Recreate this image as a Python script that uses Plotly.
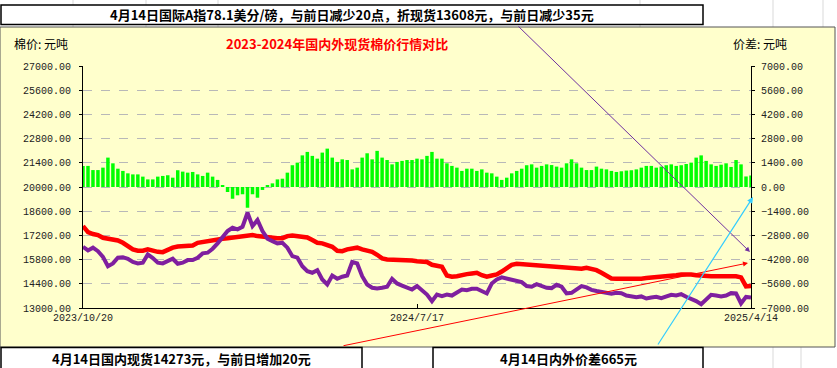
import plotly.graph_objects as go

# ---------------- data ----------------
x_tick_labels = ["2023/10/20", "2024/7/17", "2025/4/14"]

domestic = [
    17740, 17390, 17280, 17220, 17060, 17010, 16970, 16910, 16770, 16580, 16390, 16310, 16310, 16390, 16310,
    16250, 16230, 16370, 16490, 16560, 16560, 16580, 16620, 16770, 16830, 16890, 16950, 16990, 17010, 17040,
    17080, 17120, 17160, 17180, 17220,
    17160, 17120, 17100, 17060, 17030, 17040, 17160, 17200, 17180, 17140, 17080, 16930, 16770, 16740, 16660,
    16540, 16310, 16290, 16390, 16450, 16490, 16390, 16330, 16250, 16080, 15870, 15810, 15810, 15810, 15770,
    15770, 15750, 15710, 15660,
    15660, 15500, 15460, 15380, 14880, 14810, 14840, 14920, 14960, 15000, 15040, 14900, 14810, 14880, 14940,
    15110, 15310, 15500, 15560, 15540, 15500, 15460, 15480, 15460, 15420, 15420, 15400, 15380, 15370, 15330,
    15310, 15270,
    15330, 15290, 15190, 15040, 14840, 14710, 14690, 14690, 14670, 14650, 14670, 14690, 14730, 14750, 14790,
    14810, 14820, 14840, 14900, 14940, 14960, 14940, 14900, 14860, 14840, 14840, 14840, 14840, 14840, 14840,
    14840, 14770, 14253, 14273,
]

international = [
    16540, 16330, 16490, 16290, 15960, 15420, 15580, 15910, 15940, 15850, 15660, 15580, 15620, 16100, 15890,
    15620, 15580, 15710, 15850, 15560, 15620, 15770, 15770, 15910, 16160, 16200, 16430, 16740, 17120, 17450,
    17640, 17550, 17700, 18510, 17740,
    18090, 17450, 17010, 16870, 16740, 16770, 16490, 16000, 15910, 15420, 15130, 15040, 15190, 14650, 14360,
    14880, 14690, 14810, 14880, 15660, 15580, 14840, 14360, 14170, 14130, 14170, 14230, 14690, 14420, 14300,
    14170, 14070, 14270, 14030,
    13780, 13400, 13780, 13690, 13780, 13720, 13920, 14070, 14030, 14110, 14110, 13980, 13840, 14420, 14650,
    14770, 14690, 14630, 14550, 14500, 14270, 14230, 14380, 14300, 14170, 14150, 14340, 14230, 13840, 13880,
    14070, 14270,
    14190, 14050, 13980, 13920, 13880, 13820, 13880, 13860, 13720, 13700, 13630, 13670, 13550, 13610, 13650,
    13570, 13690, 13760, 13720, 13800, 13650, 13550, 13400, 13220, 13510, 13760, 13720, 13670, 13720, 13860,
    13840, 13260, 13643, 13608,
]

spread = [
    1220, 1220, 980, 980, 1120, 1700, 1370, 1060, 930, 790, 730, 730, 600, 440, 440,
    600, 640, 680, 540, 970, 890, 830, 870, 730, 640, 830, 600, 410, 100, -290,
    -680, -480, -420, -1200, -420,
    -620, -170, 60, 210, 440, 480, 830, 1260, 1410, 1830, 2030, 1800, 1640, 1990, 2220,
    1700, 1450, 1600, 1560, 1020, 1120, 1700, 1950, 1600, 2090, 1700, 1560, 1310, 1450, 1510,
    1560, 1560, 1640, 1600,
    1800, 2030, 1640, 1640, 1370, 1220, 1120, 930, 1060, 1060, 930, 1020, 830, 790, 600,
    410, 540, 790, 930, 1060, 1260, 1310, 1120, 1220, 1310, 1270, 1180, 1120, 1370, 1600,
    1370, 1120,
    980, 980, 1180, 1060, 1020, 930, 870, 910, 950, 970, 1020, 1120, 1220, 1220, 1120,
    1180, 1260, 1310, 1220, 1260, 1330, 1410, 1700, 1830, 1510, 1310, 1220, 1290, 1370, 1160,
    1560, 1310, 610, 665,
]

assert len(domestic) == len(international) == len(spread)
idx = list(range(len(domestic)))
tick_positions = [idx[0], idx[len(idx) // 2], idx[-1]]

# ---------------- layout helpers (pixel -> paper) ----------------
W, H = 837, 368
L, R, T, B = 83, 86, 66, 60
PW, PH = W - L - R, H - T - B


def px(x):
    return (x - L) / PW


def py(y):
    return (H - B - y) / PH


YELLOW = "#FFFFCC"
TICK_FONT = dict(family="Liberation Mono, DejaVu Sans Mono, monospace", size=10, color="#222222")
CJK = "Noto Sans CJK SC, sans-serif"

fig = go.Figure()

fig.add_trace(go.Bar(
    x=idx, y=spread, yaxis="y2", marker=dict(color="#00FF00", line=dict(width=0)),
    name="价差", showlegend=False,
))
fig.add_trace(go.Scatter(
    x=idx, y=domestic, mode="lines", line=dict(color="#FF0000", width=4.5),
    name="国内现货", showlegend=False,
))
fig.add_trace(go.Scatter(
    x=idx, y=international, mode="lines", line=dict(color="#7F1F9F", width=4),
    name="国际折现货", showlegend=False,
))

shapes = []
# Excel sheet gridlines in the white margins
for gx in [73, 146, 218, 640, 773, 823]:
    shapes.append(dict(type="line", xref="paper", yref="paper", x0=px(gx), x1=px(gx), y0=py(0), y1=py(27),
                       line=dict(color="#D9D9D9", width=1), layer="below"))
for gx in [773, 801]:
    shapes.append(dict(type="line", xref="paper", yref="paper", x0=px(gx), x1=px(gx), y0=py(347), y1=py(368),
                       line=dict(color="#D9D9D9", width=1), layer="below"))
# chart area (yellow)
shapes.append(dict(type="rect", xref="paper", yref="paper", x0=px(0), x1=px(835), y0=py(347), y1=py(27),
                   fillcolor=YELLOW, line=dict(color="#555555", width=1), layer="below"))
# text boxes
for (bx0, by0, bx1, by1) in [(1, 5, 703, 24.5), (1, 347.5, 362, 372), (433, 347.5, 703, 372)]:
    shapes.append(dict(type="rect", xref="paper", yref="paper", x0=px(bx0), x1=px(bx1), y0=py(by1), y1=py(by0),
                       fillcolor="white", line=dict(color="#000000", width=1.5), layer="above"))


def label(text, x, y, size=13, color="#000000"):
    return dict(text=text, x=px(x), y=py(y), xref="paper", yref="paper", showarrow=False,
                xanchor="center", yanchor="middle", font=dict(family=CJK, size=size, color=color))


annotations = [
    label("<b>4月14日国际A指78.1美分/磅，与前日减少20点，折现货13608元，与前日减少35元</b>", 352, 15),
    label("<b>4月14日国内现货14273元，与前日增加20元</b>", 181, 358),
    label("<b>4月14日内外价差665元</b>", 568, 358),
    label("<b>2023-2024年国内外现货棉价行情对比</b>", 337, 43, color="#FF0000"),
    label("棉价: 元吨", 41, 43, size=12),
    label("价差: 元吨", 760, 43, size=12),
    # arrows
    dict(text="", x=px(750), y=py(252), xref="paper", yref="paper", ax=517 - 750, ay=25 - 252,
         showarrow=True, arrowhead=2, arrowsize=1, arrowwidth=1, arrowcolor="#7030A0"),
    dict(text="", x=px(748), y=py(263), xref="paper", yref="paper", ax=342 - 748, ay=346 - 263,
         showarrow=True, arrowhead=2, arrowsize=1, arrowwidth=1, arrowcolor="#FF0000"),
    dict(text="", x=px(753), y=py(197), xref="paper", yref="paper", ax=657 - 753, ay=346 - 197,
         showarrow=True, arrowhead=2, arrowsize=1, arrowwidth=1.2, arrowcolor="#33CCFF"),
]

fig.update_layout(
    width=W, height=H,
    margin=dict(l=L, r=R, t=T, b=B, pad=0),
    paper_bgcolor="white",
    plot_bgcolor=YELLOW,
    bargap=0.3,
    showlegend=False,
    shapes=shapes,
    annotations=annotations,
    xaxis=dict(
        range=[idx[0], idx[-1]],
        tickmode="array", tickvals=tick_positions, ticktext=x_tick_labels,
        ticks="inside", ticklen=4, tickcolor="#000000",
        showline=True, linecolor="#000000", linewidth=1,
        showgrid=False, zeroline=False, tickfont=TICK_FONT,
    ),
    yaxis=dict(
        range=[13000, 27000], dtick=1400, tick0=13000, tickformat=".2f",
        ticks="outside", ticklen=3, tickcolor="#000000", ticklabelstandoff=6,
        showline=True, linecolor="#000000", linewidth=1, mirror=False,
        showgrid=True, gridcolor="#B8B8B8", griddash="dash", gridwidth=1,
        zeroline=False, tickfont=TICK_FONT,
    ),
    yaxis2=dict(
        range=[-7000, 7000], dtick=1400, tick0=-7000, tickformat=".2f",
        overlaying="y", side="right",
        ticks="outside", ticklen=3, tickcolor="#000000", ticklabelstandoff=4,
        showline=True, linecolor="#000000", linewidth=1,
        showgrid=False, zeroline=False, tickfont=TICK_FONT,
    ),
)

fig.write_html(
    "out.html",
    config={"displayModeBar": False},
    post_script="document.body.style.margin='0';document.body.style.overflow='hidden';",
)
